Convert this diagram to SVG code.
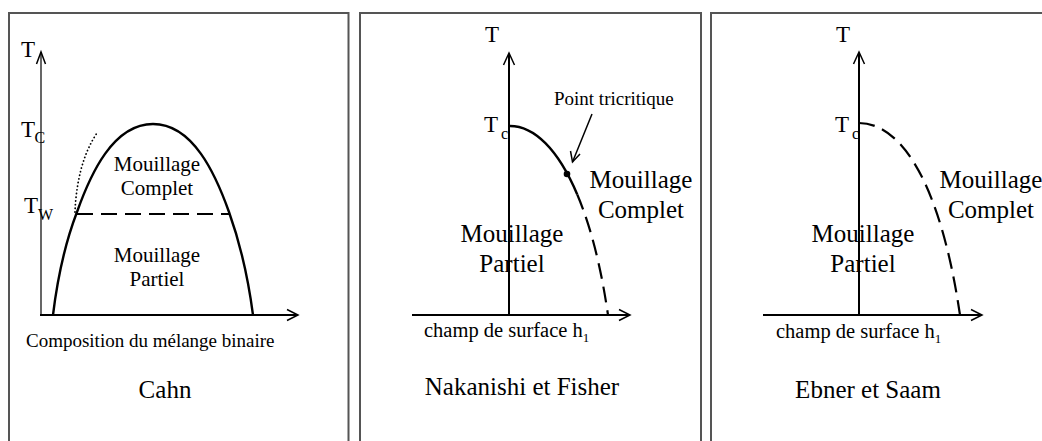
<svg xmlns="http://www.w3.org/2000/svg" width="1042" height="441" viewBox="0 0 1042 441">
<defs>
<style>
.frame{fill:none;stroke:#555;stroke-width:2}
.ax{fill:none;stroke:#000;stroke-width:2}
.axt{fill:none;stroke:#000;stroke-width:1.2}
.cur{fill:none;stroke:#000;stroke-width:2.4}
.dash{fill:none;stroke:#000;stroke-width:2.2;stroke-dasharray:16 8}
.dot{fill:none;stroke:#000;stroke-width:1.8;stroke-dasharray:0.1 3.6;stroke-linecap:round}
.head{fill:none;stroke:#000;stroke-width:1.5}
text{font-family:"Liberation Serif","Times New Roman",serif;fill:#000}
.lab{font-size:21px;text-anchor:middle}
.big{font-size:25px;text-anchor:middle}
.t{font-size:23px}
.sub{font-size:16px}
.ax2{font-size:20.5px}
</style>
</defs>
<rect width="1042" height="441" fill="#fff"/>
<g id="frames">
<path class="frame" d="M9,441 V13 H348.5 V441"/>
<path class="frame" d="M360,441 V13 H701 V441"/>
<path class="frame" d="M711,441 V13 H1044"/>
</g>

<g id="panel-cahn">
<path class="axt" d="M41,315 V52"/>
<path class="head" d="M36.5,64 L41,52 L45.5,64"/>
<path class="ax" d="M40,315 H297"/>
<path class="head" d="M287,309.5 L298,315 L287,320.5"/>
<path class="cur" d="M53,315 C57,282 64,246 77,212 C90.4,174.3 113,124 153,124 C193,124 215.6,174.3 229,212 C240.8,245 248.4,280 253,315"/>
<path class="dash" d="M77,214 H229"/>
<path class="dot" d="M75,212 C76,185 82,155 97,133"/>
<text class="t" x="21" y="57">T</text>
<text class="t" x="21" y="137">T</text><text class="sub" x="34.5" y="143" font-size="17">C</text>
<text class="t" x="24" y="213">T</text><text class="sub" x="38" y="220">W</text>
<text class="lab" x="157" y="171">Mouillage</text>
<text class="lab" x="157" y="195">Complet</text>
<text class="lab" x="157" y="262">Mouillage</text>
<text class="lab" x="157" y="286">Partiel</text>
<text x="26" y="347" font-size="19">Composition du mélange binaire</text>
<text class="big" x="165" y="398">Cahn</text>
</g>

<g id="panel-nakanishi">
<path class="ax" d="M509,315 V54"/>
<path class="head" d="M503.5,65 L509,53 L514.5,65"/>
<path class="ax" d="M412,315 H629"/>
<path class="head" d="M619,309.5 L630,315 L619,320.5"/>
<path class="cur" d="M510,126 C534,126 558,149 577.25,194.5"/>
<path class="dash" d="M577.25,194.5 C590.1,224.8 600.8,265 608,315"/>
<circle cx="567" cy="174" r="3.3" fill="#000"/>
<path class="head" d="M592,114 L572.5,162"/>
<path class="head" d="M570.5,151 L572.5,162 L580,154"/>
<text class="t" x="492" y="42" text-anchor="middle">T</text>
<text class="t" x="484" y="132">T</text><text class="sub" x="501" y="139" font-size="15">c</text>
<text x="554" y="105" font-size="19">Point tricritique</text>
<text class="big" x="641" y="188">Mouillage</text>
<text class="big" x="641" y="218">Complet</text>
<text class="big" x="512" y="242">Mouillage</text>
<text class="big" x="512" y="272">Partiel</text>
<text class="ax2" x="424" y="337">champ de surface h<tspan font-size="13" dy="5">1</tspan></text>
<text class="big" x="522" y="395">Nakanishi et Fisher</text>
</g>

<g id="panel-ebner">
<path class="ax" d="M859,315 V53"/>
<path class="head" d="M853.5,64 L859,52 L864.5,64"/>
<path class="ax" d="M763,315 H981"/>
<path class="head" d="M971,309.5 L982,315 L971,320.5"/>
<path class="dash" d="M859,123 C900,123 940,180 960,315"/>
<text class="t" x="843" y="42" text-anchor="middle">T</text>
<text class="t" x="835" y="132">T</text><text class="sub" x="852" y="139" font-size="15">c</text>
<text class="big" x="991" y="188">Mouillage</text>
<text class="big" x="991" y="218">Complet</text>
<text class="big" x="863" y="242">Mouillage</text>
<text class="big" x="863" y="272">Partiel</text>
<text class="ax2" x="776" y="338">champ de surface h<tspan font-size="13" dy="5">1</tspan></text>
<text class="big" x="868" y="398">Ebner et Saam</text>
</g>
</svg>
